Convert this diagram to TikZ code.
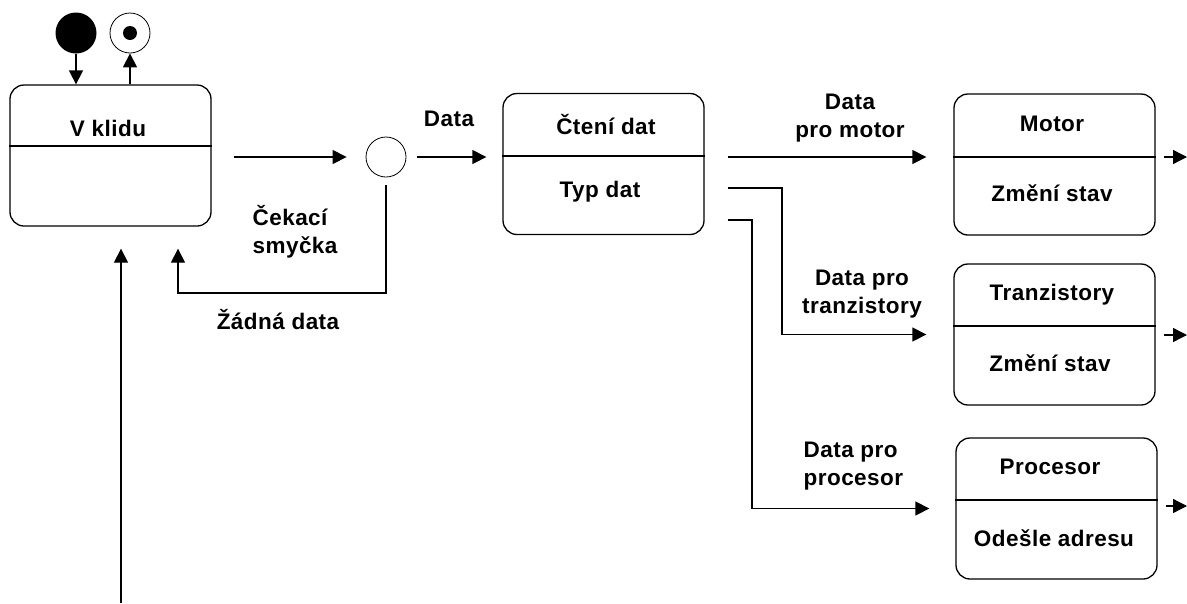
\documentclass[tikz,border=0pt]{standalone}
\usepackage{fontspec}
\setmainfont{Liberation Sans}[LetterSpace=2]
\usetikzlibrary{arrows.meta}
\begin{document}
\begin{tikzpicture}[x=1pt,y=-1pt,
  line width=1.3pt,
  every node/.style={font=\fontsize{22.5}{28}\selectfont\bfseries, inner sep=0pt},
  statebox/.style={draw, rounded corners=14pt, minimum width=201pt, minimum height=141pt},
  arr/.style={-{Triangle[length=14pt,width=14pt]}},
  lbl/.style={align=center},
  lbll/.style={align=left}]
\useasboundingbox (0,0) rectangle (1187,603);
% start / end states
\node[circle, fill=black, minimum size=41pt] (start) at (76,33) {};
\node[circle, draw, line width=0.8pt, minimum size=40pt] (end) at (130,33) {};
\node[circle, fill=black, minimum size=14pt] (enddot) at (130,33) {};
% state boxes
\node[statebox] (vk) at (110.5,155.5) {};
\draw (vk.west |- 0,146) -- (vk.east |- 0,146);
\node (vkt) at (108,128) {V klidu};

\node[circle, draw, line width=0.8pt, minimum size=40pt] (c) at (386,157) {};

\node[statebox] (ct) at (603.5,164) {};
\draw (ct.west |- 0,156) -- (ct.east |- 0,156);
\node (ctt) at (606,125) {Čtení dat};
\node (ctb) at (600,192) {Typ dat};

\node[statebox] (mo) at (1054.5,164.5) {};
\draw (mo.west |- 0,157) -- (mo.east |- 0,157);
\node (mot) at (1052,124) {Motor};
\node (mob) at (1052,193) {Změní stav};

\node[statebox] (tr) at (1054.5,334.5) {};
\draw (tr.west |- 0,326) -- (tr.east |- 0,326);
\node (trt) at (1052,295) {Tranzistory};
\node (trb) at (1050,363) {Změní stav};

\node[statebox] (pr) at (1056.5,508.5) {};
\draw (pr.west |- 0,500) -- (pr.east |- 0,500);
\node (prt) at (1050,467) {Procesor};
\node (prb) at (1054,538) {Odešle adresu};

% coordinates for free ends
\coordinate (in) at (121,603);
\coordinate (mout) at (1187,157);
\coordinate (tout) at (1187,335);
\coordinate (pout) at (1187,506);

% connectors
\draw[arr] (start.south) -- (vk.north -| start);
\draw[arr] (vk.north -| end) -- (end.south);
\draw[arr, shorten <=22pt, shorten >=19pt] (vk.east |- c) -- (c.west);
\draw[arr, shorten <=11pt, shorten >=16pt] (c.east) -- (ct.west |- c);
\draw[arr, shorten <=8pt, shorten >=22pt] (c.south) |- (178,293) -- (vk.south -| 178,0);
\draw[arr, shorten >=22pt] (in) -- (vk.south -| in);
\draw[arr, shorten <=23pt, shorten >=27pt] (ct.east |- 0,157) -- (mo.west |- 0,157);
\draw[arr, shorten <=23pt, shorten >=27pt] (ct.east |- 0,188) -- (782,188) |- (tr.west);
\draw[arr, shorten <=23pt, shorten >=26pt] (ct.east |- 0,220) -- (752,220) |- (pr.west);
\draw[arr, shorten <=8pt] (mo.east |- mout) -- (mout);
\draw[arr, shorten <=8pt] (tr.east |- tout) -- (tout);
\draw[arr, shorten <=8pt] (pr.east |- pout) -- (pout);

% labels
\node (ldata) at (449,119) {Data};
\node[lbll, anchor=west] (lcek) at (252,232) {Čekací\\smyčka};
\node (lzad) at (278,320) {Žádná data};
\node[lbl] (lmo) at (850,118) {Data\\pro motor};
\node[lbl] (ltr) at (862,294) {Data pro\\tranzistory};
\node[lbll, anchor=west] (lpr) at (803,466) {Data pro\\procesor};
\end{tikzpicture}
\end{document}
